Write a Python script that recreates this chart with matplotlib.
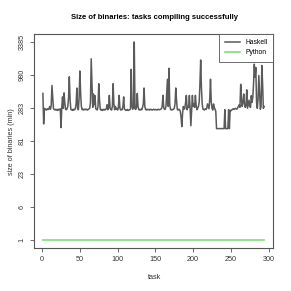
import matplotlib
matplotlib.use("Agg")
import matplotlib.pyplot as plt
import numpy as np

plt.rcParams['font.family'] = ['Liberation Sans', 'DejaVu Sans']

# binary size per task
haskell_size = [
    490, 155, 280, 265, 270, 262, 275, 268, 272, 300,
    270, 310, 660, 420, 275, 268, 262, 270, 265, 258,
    270, 262, 268, 275, 135, 290, 430, 280, 500, 350,
    270, 265, 275, 300, 420, 915, 380, 270, 262, 268,
    258, 270, 265, 275, 330, 600, 280, 265, 420, 1140,
    480, 300, 265, 270, 262, 268, 272, 265, 270, 262,
    268, 275, 280, 350, 1800, 700, 290, 480, 320, 450,
    275, 268, 262, 300, 705, 380, 270, 262, 268, 258,
    265, 270, 262, 268, 275, 320, 265, 290, 455, 280,
    268, 262, 300, 705, 330, 265, 300, 270, 280, 262,
    290, 455, 280, 262, 268, 265, 300, 430, 272, 265,
    258, 262, 268, 258, 262, 265, 270, 1210, 300, 270,
    280, 3385, 275, 268, 290, 490, 300, 265, 268, 262,
    270, 265, 290, 330, 600, 300, 268, 262, 270, 265,
    268, 262, 270, 265, 268, 262, 266, 270, 264, 268,
    265, 262, 268, 270, 264, 266, 270, 275, 300, 455,
    290, 268, 270, 300, 520, 835, 300, 1260, 320, 270,
    262, 268, 265, 270, 280, 330, 600, 380, 268, 262,
    270, 265, 250, 200, 140, 230, 300, 270, 280, 350,
    455, 265, 300, 290, 455, 280, 145, 260, 455, 300,
    330, 290, 455, 310, 265, 280, 300, 350, 700, 1720,
    600, 330, 270, 268, 262, 275, 268, 280, 330, 300,
    275, 400, 835, 350, 280, 262, 330, 290, 270, 250,
    130, 130, 130, 130, 130, 130, 130, 130, 130, 130,
    130, 265, 130, 130, 130, 130, 265, 130, 260, 255,
    262, 270, 275, 268, 272, 280, 275, 270, 285, 300,
    320, 290, 690, 400, 300, 350, 480, 330, 290, 310,
    560, 280, 330, 380, 300, 290, 450, 350, 420, 700,
    1470, 900, 1300, 350, 280, 400, 960, 500, 270, 300,
    1400, 700, 280, 300,
]
python_size = [1] * len(haskell_size)
tasks = np.arange(1, len(haskell_size) + 1)

hs = np.log1p(haskell_size)
ps = np.log1p(python_size)

fig = plt.figure(figsize=(2.91, 2.91), dpi=100)
ax = fig.add_axes([0.117, 0.148, 0.821, 0.735])

ax.plot(tasks, hs, color='#5a5a5a', lw=1.1, label='Haskell')
ax.plot(tasks, ps, color='#7fdc7f', lw=1.2, label='Python')

lo = min(hs.min(), ps.min())
hi = max(hs.max(), ps.max())
pad = 0.04 * (hi - lo)
ax.set_ylim(lo - pad, hi + pad)
xpad = 0.04 * (tasks[-1] - tasks[0])
ax.set_xlim(tasks[0] - xpad, tasks[-1] + xpad)

yt = np.linspace(lo, hi, 7)
ax.set_yticks(yt)
ax.set_yticklabels([str(int(round(v))) for v in np.expm1(yt)], rotation=90, va='center')
ax.set_xticks([0, 50, 100, 150, 200, 250, 300])

for s in ax.spines.values():
    s.set_color('#555555')
    s.set_linewidth(0.8)
ax.tick_params(colors='#555555', labelcolor='#333333', labelsize=5.2,
               length=3, width=0.6, pad=3)

fig.text(0.53, 0.94, 'Size of binaries: tasks compiling successfully',
         ha='center', va='center', fontsize=5.5, fontweight='bold')
fig.text(0.53, 0.045, 'task', ha='center', va='center', fontsize=5.2, color='#333333')
fig.text(0.041, 0.515, 'size of binaries (min)', ha='center', va='center',
         rotation=90, fontsize=5.2, color='#333333')

leg = ax.legend(loc='upper right', borderaxespad=0, fontsize=4.9, fancybox=False,
                framealpha=1, edgecolor='#555555', handlelength=2.2,
                borderpad=0.8, labelspacing=0.4)
leg.get_frame().set_linewidth(0.6)

fig.savefig('out.png', dpi=100)
